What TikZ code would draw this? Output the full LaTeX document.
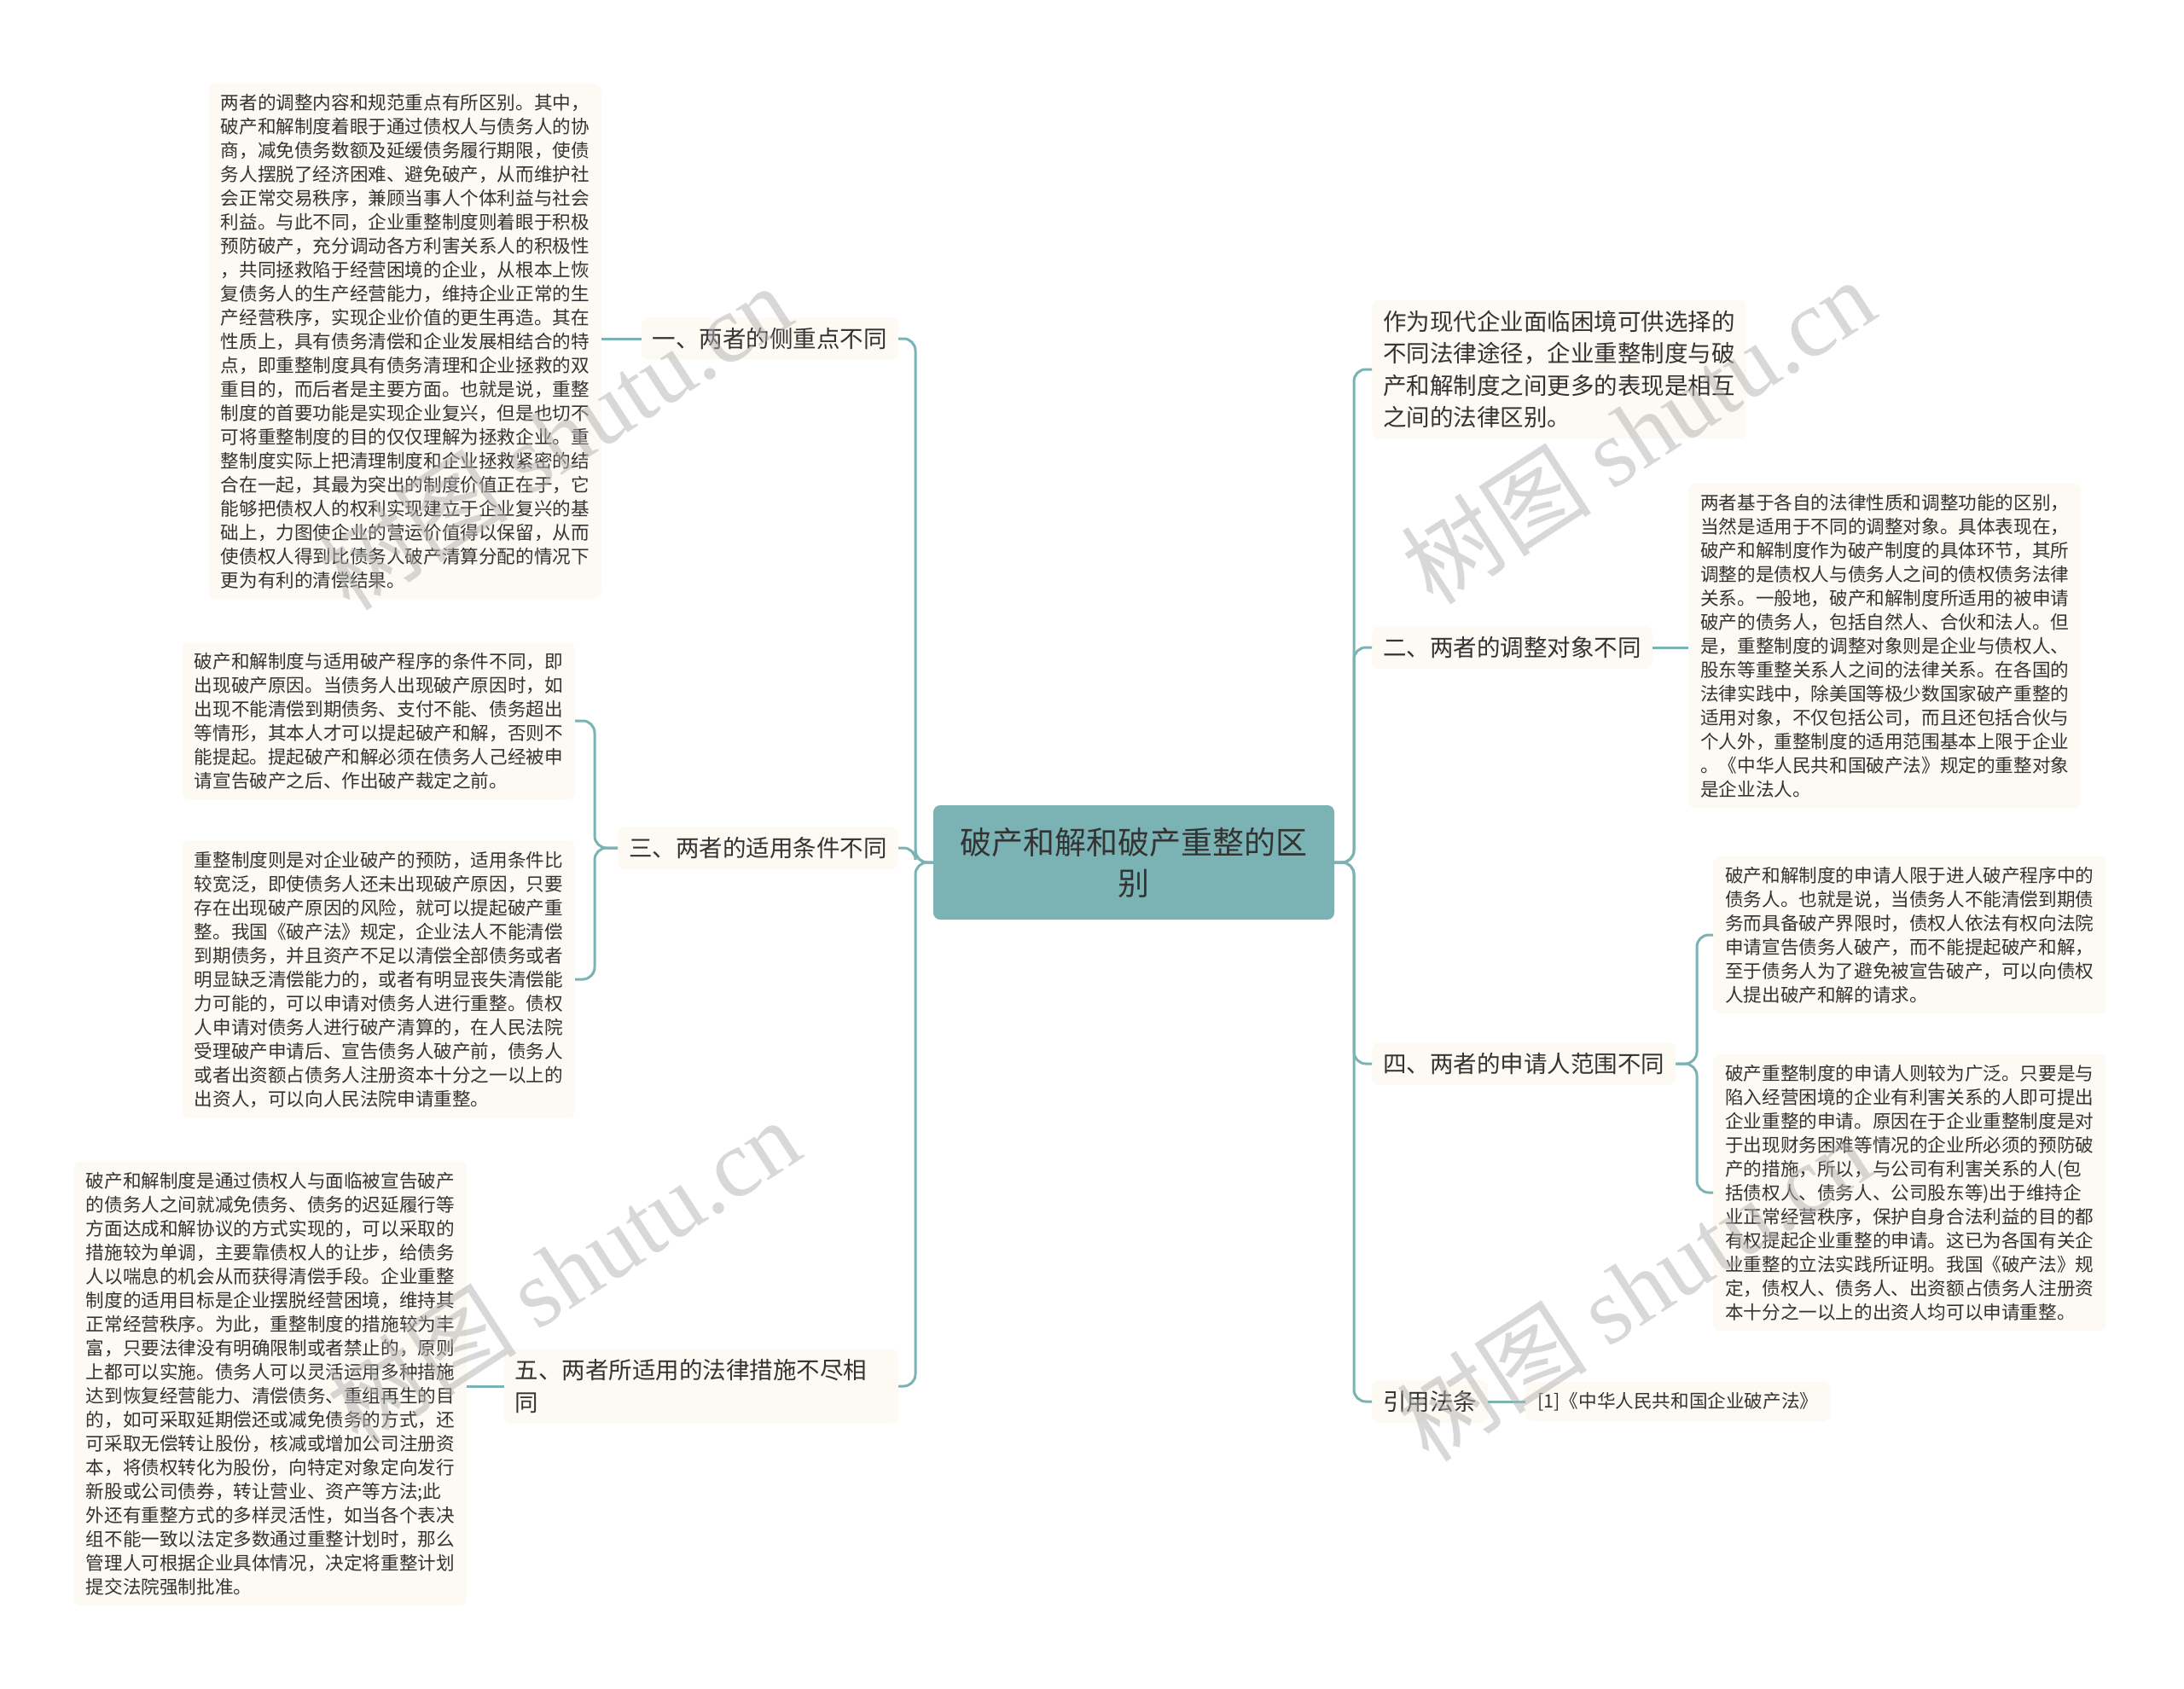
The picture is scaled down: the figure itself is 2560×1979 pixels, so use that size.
\documentclass[tikz,border=0pt]{standalone}
\usepackage{fontspec}
\setmainfont{Noto Sans CJK SC}
\newfontfamily\wmfont{Liberation Serif}
\usepackage{xcolor}
\usepackage{tikz}
\usetikzlibrary{positioning}

\definecolor{tealline}{RGB}{123,179,181}
\definecolor{paper}{RGB}{252,250,242}
\definecolor{ink}{RGB}{51,51,51}

\tikzset{
  maintopic/.style={fill=tealline, rounded corners=8pt, text=ink, align=center,
    font=\fontsize{37}{48}\selectfont, minimum width=470pt, minimum height=134pt},
  subtopic/.style={fill=paper, rounded corners=8pt, text=ink, align=left,
    font=\fontsize{27.5}{37.5}\selectfont, inner xsep=13pt, inner ysep=12pt},
  detail/.style={fill=paper, rounded corners=8pt, text=ink, align=left,
    font=\fontsize{21.6}{28}\selectfont, inner xsep=14pt, inner ysep=12pt},
  conn/.style={draw=tealline, line width=3pt, rounded corners=14pt},
  wmark/.style={text=black!30, opacity=0.5, rotate=33, font=\fontsize{112}{112}\selectfont}
}

\begin{document}
\begin{tikzpicture}[x=1pt, y=-1pt]
  \useasboundingbox[fill=white] (0,0) rectangle (2560,1979);

  % centre
  \node[maintopic] (root) at (1329,1011) {破产和解和破产重整的区\\别};

  % left branches
  \node[subtopic, anchor=east] (b1) at (1053,397) {一、两者的侧重点不同};
  \node[subtopic, anchor=east] (b3) at (1053,994) {三、两者的适用条件不同};
  \node[subtopic, anchor=east, text width=436pt] (b5) at (1053,1625) {五、两者所适用的法律措施不尽相\\同};

  % right branches
  \node[subtopic, anchor=west] (b0) at (1608,433) {作为现代企业面临困境可供选择的\\不同法律途径，企业重整制度与破\\产和解制度之间更多的表现是相互\\之间的法律区别。};
  \node[subtopic, anchor=west] (b2) at (1608,759) {二、两者的调整对象不同};
  \node[subtopic, anchor=west] (b4) at (1608,1247) {四、两者的申请人范围不同};
  \node[subtopic, anchor=west] (b6) at (1608,1643) {引用法条};

  % details, left
  \node[detail, anchor=east] (d1) at (705,400) {两者的调整内容和规范重点有所区别。其中，\\
破产和解制度着眼于通过债权人与债务人的协\\
商，减免债务数额及延缓债务履行期限，使债\\
务人摆脱了经济困难、避免破产，从而维护社\\
会正常交易秩序，兼顾当事人个体利益与社会\\
利益。与此不同，企业重整制度则着眼于积极\\
预防破产，充分调动各方利害关系人的积极性\\
，共同拯救陷于经营困境的企业，从根本上恢\\
复债务人的生产经营能力，维持企业正常的生\\
产经营秩序，实现企业价值的更生再造。其在\\
性质上，具有债务清偿和企业发展相结合的特\\
点，即重整制度具有债务清理和企业拯救的双\\
重目的，而后者是主要方面。也就是说，重整\\
制度的首要功能是实现企业复兴，但是也切不\\
可将重整制度的目的仅仅理解为拯救企业。重\\
整制度实际上把清理制度和企业拯救紧密的结\\
合在一起，其最为突出的制度价值正在于，它\\
能够把债权人的权利实现建立于企业复兴的基\\
础上，力图使企业的营运价值得以保留，从而\\
使债权人得到比债务人破产清算分配的情况下\\
更为有利的清偿结果。};
  \node[detail, anchor=east] (d3a) at (674,845) {破产和解制度与适用破产程序的条件不同，即\\
出现破产原因。当债务人出现破产原因时，如\\
出现不能清偿到期债务、支付不能、债务超出\\
等情形，其本人才可以提起破产和解，否则不\\
能提起。提起破产和解必须在债务人己经被申\\
请宣告破产之后、作出破产裁定之前。};
  \node[detail, anchor=east] (d3b) at (674,1148) {重整制度则是对企业破产的预防，适用条件比\\
较宽泛，即使债务人还未出现破产原因，只要\\
存在出现破产原因的风险，就可以提起破产重\\
整。我国《破产法》规定，企业法人不能清偿\\
到期债务，并且资产不足以清偿全部债务或者\\
明显缺乏清偿能力的，或者有明显丧失清偿能\\
力可能的，可以申请对债务人进行重整。债权\\
人申请对债务人进行破产清算的，在人民法院\\
受理破产申请后、宣告债务人破产前，债务人\\
或者出资额占债务人注册资本十分之一以上的\\
出资人，可以向人民法院申请重整。};
  \node[detail, anchor=east] (d5) at (547,1622) {破产和解制度是通过债权人与面临被宣告破产\\
的债务人之间就减免债务、债务的迟延履行等\\
方面达成和解协议的方式实现的，可以采取的\\
措施较为单调，主要靠债权人的让步，给债务\\
人以喘息的机会从而获得清偿手段。企业重整\\
制度的适用目标是企业摆脱经营困境，维持其\\
正常经营秩序。为此，重整制度的措施较为丰\\
富，只要法律没有明确限制或者禁止的，原则\\
上都可以实施。债务人可以灵活运用多种措施\\
达到恢复经营能力、清偿债务、重组再生的目\\
的，如可采取延期偿还或减免债务的方式，还\\
可采取无偿转让股份，核减或增加公司注册资\\
本，将债权转化为股份，向特定对象定向发行\\
新股或公司债券，转让营业、资产等方法;此\\
外还有重整方式的多样灵活性，如当各个表决\\
组不能一致以法定多数通过重整计划时，那么\\
管理人可根据企业具体情况，决定将重整计划\\
提交法院强制批准。};

  % details, right
  \node[detail, anchor=west] (d2) at (1979,757) {两者基于各自的法律性质和调整功能的区别，\\
当然是适用于不同的调整对象。具体表现在，\\
破产和解制度作为破产制度的具体环节，其所\\
调整的是债权人与债务人之间的债权债务法律\\
关系。一般地，破产和解制度所适用的被申请\\
破产的债务人，包括自然人、合伙和法人。但\\
是，重整制度的调整对象则是企业与债权人、\\
股东等重整关系人之间的法律关系。在各国的\\
法律实践中，除美国等极少数国家破产重整的\\
适用对象，不仅包括公司，而且还包括合伙与\\
个人外，重整制度的适用范围基本上限于企业\\
。《中华人民共和国破产法》规定的重整对象\\
是企业法人。};
  \node[detail, anchor=west] (d4a) at (2008,1096) {破产和解制度的申请人限于进人破产程序中的\\
债务人。也就是说，当债务人不能清偿到期债\\
务而具备破产界限时，债权人依法有权向法院\\
申请宣告债务人破产，而不能提起破产和解，\\
至于债务人为了避免被宣告破产，可以向债权\\
人提出破产和解的请求。};
  \node[detail, anchor=west] (d4b) at (2008,1398) {破产重整制度的申请人则较为广泛。只要是与\\
陷入经营困境的企业有利害关系的人即可提出\\
企业重整的申请。原因在于企业重整制度是对\\
于出现财务困难等情况的企业所必须的预防破\\
产的措施，所以，与公司有利害关系的人(包\\
括债权人、债务人、公司股东等)出于维持企\\
业正常经营秩序，保护自身合法利益的目的都\\
有权提起企业重整的申请。这已为各国有关企\\
业重整的立法实践所证明。我国《破产法》规\\
定，债权人、债务人、出资额占债务人注册资\\
本十分之一以上的出资人均可以申请重整。};
  \node[detail, anchor=west] (d6) at (1788,1643) {[1]《中华人民共和国企业破产法》};

  % trunks
  \coordinate (lt) at (1073,1011);
  \coordinate (rt) at (1587,1011);
  \foreach \b in {b1,b3,b5}
    \draw[conn] (root.west) -- (lt) |- (\b.east);
  \foreach \b in {b0,b2,b4,b6}
    \draw[conn] (root.east) -- (rt) |- (\b.west);

  % twigs
  \coordinate (k3) at (697,994);
  \coordinate (k4) at (1989,1247);
  \draw[conn] (b1.west) -- (d1.east |- b1.west);
  \foreach \d in {d3a,d3b}
    \draw[conn] (b3.west) -- (k3) |- (\d.east);
  \draw[conn] (b5.west) -- (d5.east |- b5.west);
  \draw[conn] (b2.east) -- (d2.west |- b2.east);
  \foreach \d in {d4a,d4b}
    \draw[conn] (b4.east) -- (k4) |- (\d.west);
  \draw[conn] (b6.east) -- (d6.west);

  % watermarks
  \node[wmark] (w1) at (650,512) {树图 {\wmfont shutu.cn}};
  \node[wmark] (w2) at (1920,505) {树图 {\wmfont shutu.cn}};
  \node[wmark] (w3) at (660,1490) {树图 {\wmfont shutu.cn}};
  \node[wmark] (w4) at (1915,1510) {树图 {\wmfont shutu.cn}};
\end{tikzpicture}
\end{document}
